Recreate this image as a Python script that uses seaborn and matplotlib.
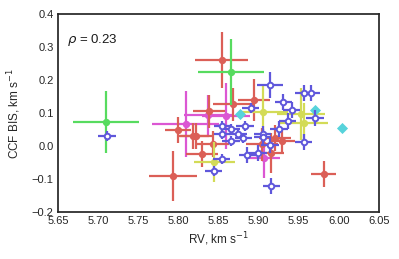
import numpy as np
import pandas as pd
import matplotlib
matplotlib.use("Agg")
import matplotlib.pyplot as plt
import seaborn as sns

# ---- data ----
red_rv   = [5.854, 5.981, 5.793, 5.800, 5.818, 5.822, 5.838, 5.843, 5.830, 5.868, 5.894, 5.929, 5.916, 5.904, 5.920]
red_bis  = [0.261, -0.085, -0.091, 0.048, 0.030, 0.030, 0.106, 0.006, -0.024, 0.127, 0.139, 0.015, -0.021, 0.006, 0.024]
red_xe   = [0.033, 0.016, 0.030, 0.016, 0.020, 0.020, 0.020, 0.020, 0.020, 0.025, 0.020, 0.016, 0.016, 0.020, 0.020]
red_ye   = [0.085, 0.040, 0.076, 0.040, 0.040, 0.040, 0.050, 0.040, 0.040, 0.050, 0.064, 0.040, 0.060, 0.050, 0.040]

mag_rv   = [5.809, 5.837, 5.859, 5.907]
mag_bis  = [0.067, 0.094, 0.091, -0.036]
mag_xe   = [0.042, 0.030, 0.030, 0.020]
mag_ye   = [0.100, 0.060, 0.100, 0.060]

yel_rv   = [5.845, 5.906, 5.953, 5.957]
yel_bis  = [-0.048, 0.103, 0.097, 0.070]
yel_xe   = [0.025, 0.031, 0.030, 0.030]
yel_ye   = [0.060, 0.079, 0.080, 0.060]

grn_rv   = [5.710, 5.866]
grn_bis  = [0.073, 0.224]
grn_xe   = [0.041, 0.041]
grn_ye   = [0.095, 0.100]

cyn_rv   = [5.877, 5.970, 6.004]
cyn_bis  = [0.097, 0.109, 0.055]

blu_rv   = [5.711, 5.844, 5.854, 5.855, 5.855, 5.866, 5.866, 5.874, 5.881, 5.883, 5.890, 5.914, 5.931,
            5.941, 5.936, 5.925, 5.905, 5.905, 5.956, 5.965, 5.970, 5.956, 5.914, 5.899, 5.886, 5.916]
blu_bis  = [0.030, -0.076, -0.039, 0.061, 0.036, 0.052, 0.015, 0.036, 0.024, 0.061, 0.115, 0.185, 0.133,
            0.109, 0.076, 0.052, 0.036, 0.027, 0.161, 0.161, 0.085, 0.012, 0.003, -0.021, -0.027, -0.121]
blu_xe   = [0.011] * 11 + [0.016] + [0.011] * 14
blu_ye   = [0.015] * 11 + [0.040] + [0.025] * 14

rho_text = r"$\rho$ = 0.23"

# ---- style ----
sns.set_theme(style="white")
plt.rcParams['font.family'] = ['Liberation Sans', 'DejaVu Sans']
pal = sns.color_palette("hls", 6)
c_red, c_yel, c_grn, c_cyn, c_blu, c_mag = pal

fig = plt.figure(figsize=(3.99, 2.59), dpi=100)
ax = fig.add_axes([0.145, 0.181, 0.805, 0.765])

def draw(rv, bis, xe, ye, color, marker, fill, z, s):
    df = pd.DataFrame({"rv": rv, "bis": bis})
    if xe is not None:
        ax.errorbar(df.rv, df.bis, xerr=xe, yerr=ye, fmt="none", ecolor=color,
                    elinewidth=1.6, capsize=0, zorder=z)
    sns.scatterplot(data=df, x="rv", y="bis", ax=ax, color=color, marker=marker, s=s,
                    facecolor=("white" if not fill else color),
                    edgecolor=color, linewidth=(1.4 if not fill else 0), zorder=z + 0.5,
                    legend=False)

draw(mag_rv, mag_bis, mag_xe, mag_ye, c_mag, "o", True, 2, 28)
draw(red_rv, red_bis, red_xe, red_ye, c_red, "o", True, 3, 28)
draw(grn_rv, grn_bis, grn_xe, grn_ye, c_grn, "o", True, 4, 28)
draw(yel_rv, yel_bis, yel_xe, yel_ye, c_yel, "o", True, 5, 28)
draw(cyn_rv, cyn_bis, None, None, c_cyn, "D", True, 6, 32)
draw(blu_rv, blu_bis, blu_xe, blu_ye, c_blu, "o", False, 7, 16)

ax.set_xlim(5.65, 6.05)
ax.set_ylim(-0.2, 0.4)
ax.set_xticks(np.arange(5.65, 6.051, 0.05))
ax.set_xticklabels([f"{v:.2f}" for v in np.arange(5.65, 6.051, 0.05)])
ax.set_yticks(np.arange(-0.2, 0.401, 0.1))
ax.set_yticklabels([f"{v:.1f}".replace("-", "\u2212") if abs(v) > 1e-9 else "0.0" for v in np.arange(-0.2, 0.401, 0.1)])
ax.tick_params(labelsize=8, length=0, pad=3, labelcolor="0.15")
ax.set_xlabel(r"RV, km s$^{-1}$", fontsize=8.5, labelpad=3, color="0.15")
ax.set_ylabel(r"CCF BIS, km s$^{-1}$", fontsize=8.5, labelpad=6, color="0.15")
for sp in ax.spines.values():
    sp.set_color("0.15")
    sp.set_linewidth(1.25)
ax.text(0.03, 0.87, rho_text, transform=ax.transAxes, fontsize=9.5, va="center", ha="left", color="0.1")

fig.savefig("out.png", dpi=100)
